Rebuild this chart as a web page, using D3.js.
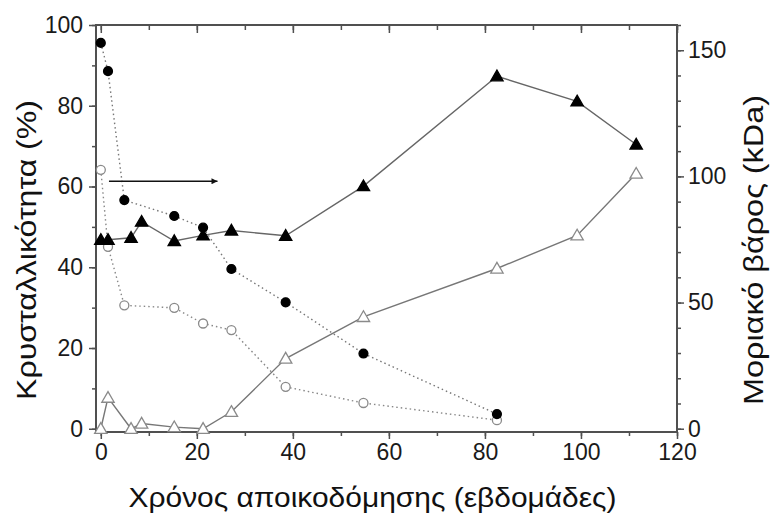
<!DOCTYPE html>
<html><head><meta charset="utf-8">
<script src="https://cdn.jsdelivr.net/npm/d3@7"></script>
<style>
body{margin:0;background:#fff;}
svg{display:block;font-family:"Liberation Sans",Arial,Helvetica,sans-serif;}
</style></head>
<body><svg id="c" width="770" height="515"></svg>
<script>
// Data (weeks of degradation)
const circleWeeks = [0, 1.5, 4.9, 15.3, 21.3, 27.2, 38.5, 54.7, 82.5];
const filledCircleMw = [152.9, 141.7, 90.6, 84.3, 79.7, 63.3, 50.1, 29.8, 5.8];
const openCircleMw   = [102.6, 72.1, 48.9, 47.9, 41.7, 39.1, 16.6, 10.2, 3.4];
const triangleWeeks = [0, 1.5, 6.3, 8.5, 15.3, 21.3, 27.2, 38.5, 54.7, 82.5, 99.2, 111.5];
const filledTriangleCryst = [46.8, 46.8, 47.3, 51.3, 46.5, 47.9, 49.1, 47.8, 60.1, 87.3, 81.1, 70.4];
const openTriangleCryst   = [0, 7.7, 0, 1.3, 0.4, 0, 4.2, 17.4, 27.7, 39.7, 47.9, 63.2];
const xTicks = [0, 20, 40, 60, 80, 100, 120];
const yLeftTicks = [0, 20, 40, 60, 80, 100];
const yRightTicks = [0, 50, 100, 150];
const arrowFrom = [1.7, 61.3], arrowTo = [24.3, 61.3];
const xTitle = "Χρόνος αποικοδόμησης (εβδομάδες)";
const yLeftTitle = "Κρυσταλλικότητα (%)";
const yRightTitle = "Μοριακό βάρος (kDa)";

const L = 96, R = 677, T = 25, B = 432;
const svg = d3.select("#c");
const x = d3.scaleLinear().domain([-1, 120]).range([L, R]);
const yL = d3.scaleLinear().domain([-0.8, 100]).range([B, T]);
const yR = d3.scaleLinear().domain([-1.3, 160]).range([B, T]);

const axisCol = "#505050", fs = 23;
function styleAxis(g){
  g.select(".domain").remove();
  g.selectAll("line").attr("stroke", axisCol).attr("stroke-width", 1.5);
  g.selectAll("text").attr("font-size", fs).attr("fill", "#1a1a1a");
}
// minor ticks
const minorX = d3.range(0, 121, 10), minorL = d3.range(0, 101, 10), minorR = d3.range(0, 161, 10);
svg.append("g").attr("transform", `translate(0,${B})`)
  .call(d3.axisBottom(x).tickValues(minorX).tickSize(4).tickFormat("")).call(styleAxis);
svg.append("g").attr("transform", `translate(0,${B})`)
  .call(d3.axisBottom(x).tickValues(xTicks).tickSize(7).tickPadding(5).tickFormat(d3.format("d"))).call(styleAxis);
svg.append("g").attr("transform", `translate(0,${T})`)
  .call(d3.axisBottom(x).tickValues(minorX).tickSize(5).tickFormat("")).call(styleAxis);
svg.append("g").attr("transform", `translate(0,${T})`)
  .call(d3.axisBottom(x).tickValues(xTicks).tickSize(8).tickFormat("")).call(styleAxis);
svg.append("g").attr("transform", `translate(${L},0)`)
  .call(d3.axisLeft(yL).tickValues(minorL).tickSize(4).tickFormat("")).call(styleAxis);
svg.append("g").attr("transform", `translate(${L},0)`)
  .call(d3.axisLeft(yL).tickValues(yLeftTicks).tickSize(7).tickPadding(6).tickFormat(d3.format("d"))).call(styleAxis);
svg.append("g").attr("transform", `translate(${R},0)`)
  .call(d3.axisRight(yR).tickValues(minorR).tickSize(4).tickFormat("")).call(styleAxis);
svg.append("g").attr("transform", `translate(${R},0)`)
  .call(d3.axisRight(yR).tickValues(yRightTicks).tickSize(7).tickPadding(4).tickFormat(d3.format("d"))).call(styleAxis);

// frame
svg.append("rect").attr("x", L).attr("y", T).attr("width", R - L).attr("height", B - T)
  .attr("fill", "none").attr("stroke", axisCol).attr("stroke-width", 2);

// lines
function series(xs, ys, yScale, opt){
  const pts = xs.map((d, i) => [x(d), yScale(ys[i])]);
  svg.append("path").attr("d", d3.line()(pts)).attr("fill", "none")
    .attr("stroke", opt.lineCol).attr("stroke-width", 1.4)
    .attr("stroke-dasharray", opt.dash || null);
  const sym = d3.symbol().type(opt.shape).size(opt.size);
  svg.append("g").selectAll("path").data(pts).join("path")
    .attr("transform", d => `translate(${d[0]},${d[1] + (opt.shape === d3.symbolTriangle ? 1 : 0)})`)
    .attr("d", sym)
    .attr("fill", opt.fill).attr("stroke", opt.stroke).attr("stroke-width", 1.3);
}
series(triangleWeeks, openTriangleCryst, yL, {lineCol: "#777", shape: d3.symbolTriangle, size: 66, fill: "#fff", stroke: "#8a8a8a"});
series(circleWeeks, openCircleMw, yR, {lineCol: "#888", dash: "1.5,3", shape: d3.symbolCircle, size: 64, fill: "#fff", stroke: "#8a8a8a"});
series(triangleWeeks, filledTriangleCryst, yL, {lineCol: "#666", shape: d3.symbolTriangle, size: 66, fill: "#000", stroke: "#000"});
series(circleWeeks, filledCircleMw, yR, {lineCol: "#777", dash: "1.5,3", shape: d3.symbolCircle, size: 62, fill: "#000", stroke: "#000"});

// arrow annotation
svg.append("defs").append("marker").attr("id", "ah").attr("viewBox", "0 0 10 10")
  .attr("refX", 10).attr("refY", 5).attr("markerWidth", 11).attr("markerHeight", 6)
  .attr("markerUnits", "userSpaceOnUse").attr("orient", "auto")
  .append("path").attr("d", "M0,0L10,5L0,10Z").attr("fill", "#111");
svg.append("line").attr("x1", x(arrowFrom[0])).attr("y1", yL(arrowFrom[1]))
  .attr("x2", x(arrowTo[0])).attr("y2", yL(arrowTo[1]))
  .attr("stroke", "#111").attr("stroke-width", 1.6).attr("marker-end", "url(#ah)");

// titles
svg.append("text").attr("x", 372.5).attr("y", 507).attr("text-anchor", "middle")
  .attr("font-size", 28).attr("fill", "#111")
  .attr("textLength", 488).attr("lengthAdjust", "spacingAndGlyphs").text(xTitle);
svg.append("text").attr("transform", `translate(36,250) rotate(-90)`)
  .attr("text-anchor", "middle").attr("font-size", 28).attr("fill", "#111")
  .attr("textLength", 300).attr("lengthAdjust", "spacingAndGlyphs").text(yLeftTitle);
svg.append("text").attr("transform", `translate(763,250) rotate(-90)`)
  .attr("text-anchor", "middle").attr("font-size", 28).attr("fill", "#111")
  .attr("textLength", 310).attr("lengthAdjust", "spacingAndGlyphs").text(yRightTitle);
</script></body></html>
